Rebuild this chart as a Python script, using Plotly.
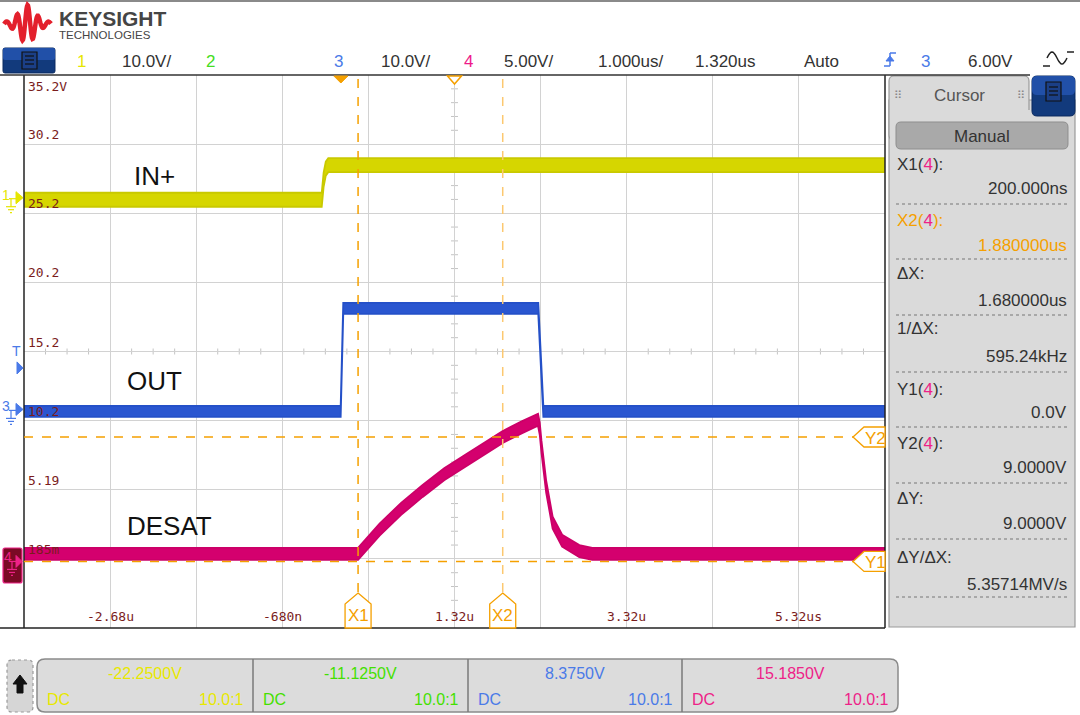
import math
import plotly.graph_objects as go

# ------------------------------------------------------------------ data
TIME_CENTER_US = 1.32       # horizontal position (µs)
TIME_PER_DIV_US = 1.0       # µs / div
H_DIVS, V_DIVS = 10, 8

CH1_SCALE, CH1_OFFSET = 10.0, -22.25   # IN+
CH3_SCALE, CH3_OFFSET = 10.0, 8.375    # OUT
CH4_SCALE, CH4_OFFSET = 5.0, 15.185    # DESAT
TRIG_LEVEL_CH3 = 6.0

x_label_times = [-2.68, -0.68, 1.32, 3.32, 5.32]
x_label_texts = ["-2.68u", "-680n", "1.32u", "3.32u", "5.32us"]
y_label_values = [35.185, 30.185, 25.185, 20.185, 15.185, 10.185, 5.185, 0.185]
y_label_texts = ["35.2V", "30.2", "25.2", "20.2", "15.2", "10.2", "5.19", "185m"]

# IN+ (channel 1, volts)
in_t = [-3.68, -0.222, -0.200, -0.175, -0.146, 6.32]
in_v = [-0.3, -0.3, 2.6, 4.2, 4.7, 4.7]

# OUT (channel 3, volts)
out_t = [-3.68, -0.002, 0.028, 2.293, 2.352, 6.32]
out_v = [-0.3, -0.3, 14.6, 14.6, -0.3, -0.3]

# DESAT (channel 4, volts)
desat_t = [-3.68, 0.20, 0.45, 0.70, 0.95, 1.20, 1.45, 1.70, 1.88, 2.10, 2.29,
           2.31, 2.33, 2.385, 2.46, 2.57, 2.77, 2.92, 6.32]
desat_v = [0.55, 0.55, 2.3, 3.8, 5.1, 6.3, 7.3, 8.3, 9.0, 9.7, 10.25,
           9.6, 8.3, 5.4, 2.8, 1.5, 0.75, 0.55, 0.55]

cursor_x_us = [0.20, 1.88]      # X1, X2
cursor_y_v = [0.0, 9.0]         # Y1, Y2 (channel 4)

header_items = [("1", "#e6e600", 81), ("10.0V/", "#333333", 146), ("2", "#44dd22", 210),
                ("3", "#4a7ae8", 338), ("10.0V/", "#333333", 405), ("4", "#ee1a8a", 468),
                ("5.00V/", "#333333", 528), ("1.000us/", "#333333", 630),
                ("1.320us", "#333333", 725), ("Auto", "#333333", 821),
                ("3", "#4a7ae8", 925), ("6.00V", "#333333", 990)]

PINK = "#ee2288"
panel_rows = [
    ("X1(<span style='color:%s'>4</span>):" % PINK, "200.000ns", "#333333"),
    ("X2(<span style='color:%s'>4</span>):" % PINK, "1.880000us", "#f5a000"),
    ("ΔX:", "1.680000us", "#333333"),
    ("1/ΔX:", "595.24kHz", "#333333"),
    ("Y1(<span style='color:%s'>4</span>):" % PINK, "0.0V", "#333333"),
    ("Y2(<span style='color:%s'>4</span>):" % PINK, "9.0000V", "#333333"),
    ("ΔY:", "9.0000V", "#333333"),
    ("ΔY/ΔX:", "5.35714MV/s", "#333333"),
]
panel_label_y = [165, 220, 273, 328, 389, 443, 498, 557]
panel_value_y = [188, 245, 300, 356, 412, 467, 523, 584]
panel_sep_y = [204, 259, 315, 372, 427, 483, 539, 597]

bottom_values = ["-22.2500V", "-11.1250V", "8.3750V", "15.1850V"]
bottom_colors = ["#e8e800", "#44e000", "#4a7ae8", "#ee2288"]

# ------------------------------------------------------------------ geometry
W, H = 1080, 715
PL, PR, PT, PB = 24, 885, 75, 628
XMIN = TIME_CENTER_US - H_DIVS / 2 * TIME_PER_DIV_US
XMAX = TIME_CENTER_US + H_DIVS / 2 * TIME_PER_DIV_US


def yrange(scale, offset):
    return [offset - V_DIVS / 2 * scale, offset + V_DIVS / 2 * scale]


Y1R, Y3R, Y4R = yrange(CH1_SCALE, CH1_OFFSET), yrange(CH3_SCALE, CH3_OFFSET), yrange(CH4_SCALE, CH4_OFFSET)
DIV_PX = (PB - PT) / V_DIVS


def PX(x):
    return (x - PL) / (PR - PL)


def PY(y):
    return (PB - y) / (PB - PT)


def t2px(t):
    return PL + (t - XMIN) / (XMAX - XMIN) * (PR - PL)


def v2px(v, r):
    return PT + (r[1] - v) / (r[1] - r[0]) * (PB - PT)


def P(x, y):
    return f"{PX(x):.5f},{PY(y):.5f}"


def poly(pts):
    return "M" + " L".join(P(x, y) for x, y in pts) + " Z"


def rrect(x0, y0, x1, y1, r):
    return (f"M{P(x0 + r, y0)} L{P(x1 - r, y0)} Q{P(x1, y0)} {P(x1, y0 + r)} "
            f"L{P(x1, y1 - r)} Q{P(x1, y1)} {P(x1 - r, y1)} L{P(x0 + r, y1)} "
            f"Q{P(x0, y1)} {P(x0, y1 - r)} L{P(x0, y0 + r)} Q{P(x0, y0)} {P(x0 + r, y0)} Z")


shapes = []
annotations = []
FONT = "Liberation Sans, Arial, sans-serif"
MONO = "DejaVu Sans Mono, Liberation Mono, monospace"


def pshape(path, fill=None, line="rgba(0,0,0,0)", lw=1, dash="solid", layer="above"):
    shapes.append(dict(type="path", path=path, xref="paper", yref="paper",
                       fillcolor=fill if fill else "rgba(0,0,0,0)",
                       line=dict(color=line, width=lw, dash=dash), layer=layer))


def pline(x0, y0, x1, y1, color, lw=1, dash="solid", layer="above"):
    shapes.append(dict(type="line", xref="paper", yref="paper", x0=PX(x0), y0=PY(y0),
                       x1=PX(x1), y1=PY(y1), line=dict(color=color, width=lw, dash=dash), layer=layer))


def txt(x, y, s, size=17, color="#333333", xanchor="left", yanchor="middle", family=FONT):
    annotations.append(dict(x=PX(x), y=PY(y), xref="paper", yref="paper", text=s, showarrow=False,
                            font=dict(size=size, color=color, family=family),
                            xanchor=xanchor, yanchor=yanchor, borderpad=0))


# ------------------------------------------------------------------ traces
fig = go.Figure()


def band(t, v, yaxis, half_px, scale, color, edge):
    half = half_px / DIV_PX * scale
    up = [a + half for a in v]
    lo = [a - half for a in v]
    fig.add_trace(go.Scatter(x=list(t) + list(t)[::-1], y=up + lo[::-1], mode="lines",
                             fill="toself", fillcolor=color, line=dict(color=edge, width=1.8),
                             yaxis=yaxis, hoverinfo="skip"))


band(in_t, in_v, "y2", 7.0, CH1_SCALE, "#d6d600", "#c9c900")
band(out_t, out_v, "y3", 5.5, CH3_SCALE, "#2a56d0", "#2450c8")
band(desat_t, desat_v, "y", 6.0, CH4_SCALE, "#d4006e", "#cc0068")

# ------------------------------------------------------------------ axes & grid
fig.update_layout(
    width=W, height=H, margin=dict(l=PL, r=W - PR, t=PT, b=H - PB),
    paper_bgcolor="white", plot_bgcolor="white", showlegend=False,
    xaxis=dict(range=[XMIN, XMAX], tickvals=[XMIN + i * TIME_PER_DIV_US for i in range(H_DIVS + 1)],
               showgrid=True, gridcolor="#d2d2d2", gridwidth=1, showticklabels=False,
               zeroline=False, showline=False, ticks="", fixedrange=True),
    yaxis=dict(range=Y4R, tickvals=[Y4R[0] + i * CH4_SCALE for i in range(V_DIVS + 1)],
               showgrid=True, gridcolor="#d2d2d2", gridwidth=1, showticklabels=False,
               zeroline=False, showline=False, ticks="", fixedrange=True),
    yaxis2=dict(range=Y1R, overlaying="y", visible=False, showgrid=False, fixedrange=True),
    yaxis3=dict(range=Y3R, overlaying="y", visible=False, showgrid=False, fixedrange=True),
)

# minor ticks on centre axes
yc4 = CH4_OFFSET
dv = 3 / DIV_PX * CH4_SCALE
for i in range(H_DIVS * 4 + 1):
    if i % 4 == 0:
        continue
    t = XMIN + i * TIME_PER_DIV_US / 4
    shapes.append(dict(type="line", xref="x", yref="y", x0=t, x1=t, y0=yc4 - dv, y1=yc4 + dv,
                       line=dict(color="#c4c4c4", width=1), layer="below"))
dt = 3.5 / (PR - PL) * (XMAX - XMIN)
for i in range(V_DIVS * 5 + 1):
    if i % 5 == 0:
        continue
    v = Y4R[0] + i * CH4_SCALE / 5
    shapes.append(dict(type="line", xref="x", yref="y", x0=TIME_CENTER_US - dt, x1=TIME_CENTER_US + dt,
                       y0=v, y1=v, line=dict(color="#c4c4c4", width=1), layer="below"))

# borders
pline(PL, PT, PL, PB, "#222222", 1.5)
pline(0, PB, PR, PB, "#222222", 1.5)
pline(PR, PT, PR, PB, "#222222", 1.5)
pline(0, PT, 1030, PT, "#333333", 1.5)

# axis labels inside graticule
for v, s in zip(y_label_values, y_label_texts):
    yy = v2px(v, Y4R)
    if s.endswith("V"):
        txt(PL + 3, yy + 3, s, 13, "#7a1c1c", "left", "top", MONO)
    else:
        txt(PL + 3, yy - 1, s, 13, "#7a1c1c", "left", "bottom", MONO)
for t, s in zip(x_label_times, x_label_texts):
    txt(t2px(t), PB - 3, s, 13, "#7a1c1c", "center", "bottom", MONO)

# ------------------------------------------------------------------ cursors
ORANGE = "#f5a000"
LIGHT_OR = "#fcc870"
for i, (xc, col) in enumerate(zip(cursor_x_us, [ORANGE, LIGHT_OR])):
    shapes.append(dict(type="line", xref="x", yref="paper", x0=xc, x1=xc, y0=0, y1=1,
                       line=dict(color=col, width=1.5, dash="dash"), layer="above"))
for yv in cursor_y_v:
    yy = v2px(yv, Y4R)
    pline(PL, yy, 855, yy, ORANGE, 1.5, "dash")
for i, xc in enumerate(cursor_x_us):
    xp = t2px(xc)
    pshape(poly([(xp, 593), (xp + 13, 604), (xp + 13, PB), (xp - 13, PB), (xp - 13, 604)]),
           "white", ORANGE, 1.3)
    txt(xp, 615, "X%d" % (i + 1), 17, ORANGE, "center", "middle")
for i, yv in enumerate(cursor_y_v):
    yy = v2px(yv, Y4R)
    pshape(poly([(853, yy), (864, yy - 10), (PR, yy - 10), (PR, yy + 10), (864, yy + 10)]),
           "white", ORANGE, 1.3)
    txt(875, yy + 1, "Y%d" % (i + 1), 17, ORANGE, "center", "middle")

# top reference markers
xt0 = t2px(0.0)
pshape(poly([(xt0 - 7, PT + 1), (xt0 + 7, PT + 1), (xt0, PT + 8)]), ORANGE, ORANGE, 1)
xtc = t2px(TIME_CENTER_US)
pshape(poly([(xtc - 7, PT + 1), (xtc + 7, PT + 1), (xtc, PT + 9)]), "white", ORANGE, 1.5)

# trace labels
txt(133, 176, "IN+", 26, "#111111")
txt(126, 381, "OUT", 26, "#111111")
txt(126, 526, "DESAT", 26, "#111111")

# ------------------------------------------------------------------ left channel markers


def ground(x, y, color):
    pline(x, y, x, y + 8, color, 1.2)
    pline(x - 5, y + 8, x + 5, y + 8, color, 1.2)
    pline(x - 3, y + 11, x + 3, y + 11, color, 1.2)
    pline(x - 1, y + 14, x + 1, y + 14, color, 1.2)


g1 = v2px(0.0, Y1R)
txt(6, g1 - 3, "1", 14, "#e6e600", "center")
pline(9, g1 + 1, 16, g1 + 1, "#e6e600", 1.2)
ground(11, g1 + 1, "#e6e600")
pshape(poly([(16, g1 - 6), (23, g1), (16, g1 + 6)]), "#e6e600", "#e6e600")

g3 = v2px(0.0, Y3R)
txt(6, g3 - 3, "3", 14, "#4a7ae8", "center")
pline(9, g3 + 1, 16, g3 + 1, "#4a7ae8", 1.2)
ground(11, g3 + 1, "#4a7ae8")
pshape(poly([(16, g3 - 6), (23, g3), (16, g3 + 6)]), "#4a7ae8", "#4a7ae8")

gt = v2px(TRIG_LEVEL_CH3, Y3R)
txt(16, gt - 17, "T", 14, "#4a7ae8", "center")
pshape(poly([(17, gt - 6), (23, gt), (17, gt + 6)]), "#4a7ae8", "#4a7ae8")

g4 = v2px(0.0, Y4R)
pshape(rrect(3, 548, 22, 583, 2), "#7a0a25", PINK, 1.2)
txt(8, g4 - 4, "4", 14, PINK, "center")
pline(10, g4, 16, g4, PINK, 1.2)
ground(12, g4, PINK)
pshape(poly([(16, g4 - 6), (22, g4), (16, g4 + 6)]), PINK, PINK)

# ------------------------------------------------------------------ header
pline(0, 1, W, 1, "#8a8a8a", 2)
logo = []
for i in range(95):
    x = 4 + i * 0.5
    env = 17 * math.exp(-((x - 27) / 11) ** 2) + 2
    logo.append((x, 24 - env * math.sin(2 * math.pi * (x - 4) / 10.5)))
pshape("M" + " L".join(P(x, y) for x, y in logo), None, "#e3202c", 4.5)
txt(58, 18, "<b>KEYSIGHT</b>", 21, "#454545")
txt(58, 35, "TECHNOLOGIES", 11.5, "#454545")

# menu button
pshape(rrect(3, 48, 55, 73, 2), "#123a7c", "#0b2a60", 1)
pshape(rrect(3, 48, 55, 60, 2), "#2150a8", "#2150a8", 0)
pshape(poly([(22, 52), (37, 52), (37, 69), (22, 69)]), "#1b3f86", "#111111", 1.2)
for yy in (56, 60, 64):
    pline(25, yy, 34, yy, "#111111", 1.2)

for s, c, xc in header_items:
    txt(xc, 61, s, 17, c, "center")
# trigger slope icon
pline(884, 66, 890, 66, "#4a7ae8", 1.5)
pline(890, 66, 890, 53, "#4a7ae8", 1.5)
pline(890, 53, 896, 53, "#4a7ae8", 1.5)
pshape(poly([(886, 61), (894, 61), (890, 56)]), "#4a7ae8", "#4a7ae8")
# acquisition icon
wave = [(1047 + i, 58 - 6 * math.sin(math.pi * i / 10)) for i in range(21)]
pshape("M" + " L".join(P(x, y) for x, y in wave), None, "#222222", 1.5)
pline(1043, 66, 1050, 66, "#222222", 1.5)
pline(1067, 52, 1074, 52, "#222222", 1.5)

# ------------------------------------------------------------------ right panel
pshape(poly([(889, 100), (889, 627), (1075, 627), (1075, 100)]), "#dadada", "#9a9a9a", 1.2, layer="below")
pshape(rrect(889, 76, 1029, 140, 5), "#dadada", "#9a9a9a", 1.2, layer="below")
pshape(poly([(890, 110), (1074, 110), (1074, 626), (890, 626)]), "#dadada", "#dadada", 0, layer="below")
pshape(rrect(1032, 76, 1075, 116, 5), "#123a7c", "#0b2a60", 1)
pshape(rrect(1032, 76, 1075, 95, 5), "#2150a8", "#2150a8", 0)
pshape(poly([(1046, 82), (1061, 82), (1061, 101), (1046, 101)]), "#1b3f86", "#111111", 1.2)
for yy in (87, 91, 95):
    pline(1049, yy, 1058, yy, "#111111", 1.2)
txt(959, 95, "Cursor", 17, "#555555", "center")
txt(898, 95, "⠿", 11, "#888888", "center", family="DejaVu Sans")
txt(1021, 95, "⠿", 11, "#888888", "center", family="DejaVu Sans")
pshape(rrect(896, 122, 1068, 149, 5), "#a9a9a9", "#8e8e8e", 1)
txt(982, 136, "Manual", 17, "#333333", "center")
for (lab, val, col), ly, vy, sy in zip(panel_rows, panel_label_y, panel_value_y, panel_sep_y):
    txt(896, ly, lab, 17, col, "left")
    txt(1068, vy, val, 17, col, "right")
    pline(896, sy, 1068, sy, "#a8a8a8", 2, "dot")

# ------------------------------------------------------------------ bottom bar
pshape(rrect(7, 660, 33, 712, 5), "#d6d6d6", "#9a9a9a", 1.2, "dot")
pshape(poly([(20, 675), (27, 684), (23, 684), (23, 693), (17, 693), (17, 684), (13, 684)]),
       "#111111", "#111111", 1)
pshape(rrect(37, 659, 898, 712, 8), "#dcdcdc", "#8a8a8a", 1.5)
seg_edges = [37, 253, 468, 682, 898]
for xe in seg_edges[1:-1]:
    pline(xe, 659, xe, 712, "#7a7a7a", 1.5)
for i, (val, col) in enumerate(zip(bottom_values, bottom_colors)):
    x0, x1 = seg_edges[i], seg_edges[i + 1]
    txt((x0 + x1) / 2, 673, val, 16, col, "center")
    txt(x0 + 9, 699, "DC", 16, col, "left")
    txt(x1 - 8, 699, "10.0:1", 16, col, "right")

fig.update_layout(shapes=shapes, annotations=annotations)
fig.write_html("out.html")
